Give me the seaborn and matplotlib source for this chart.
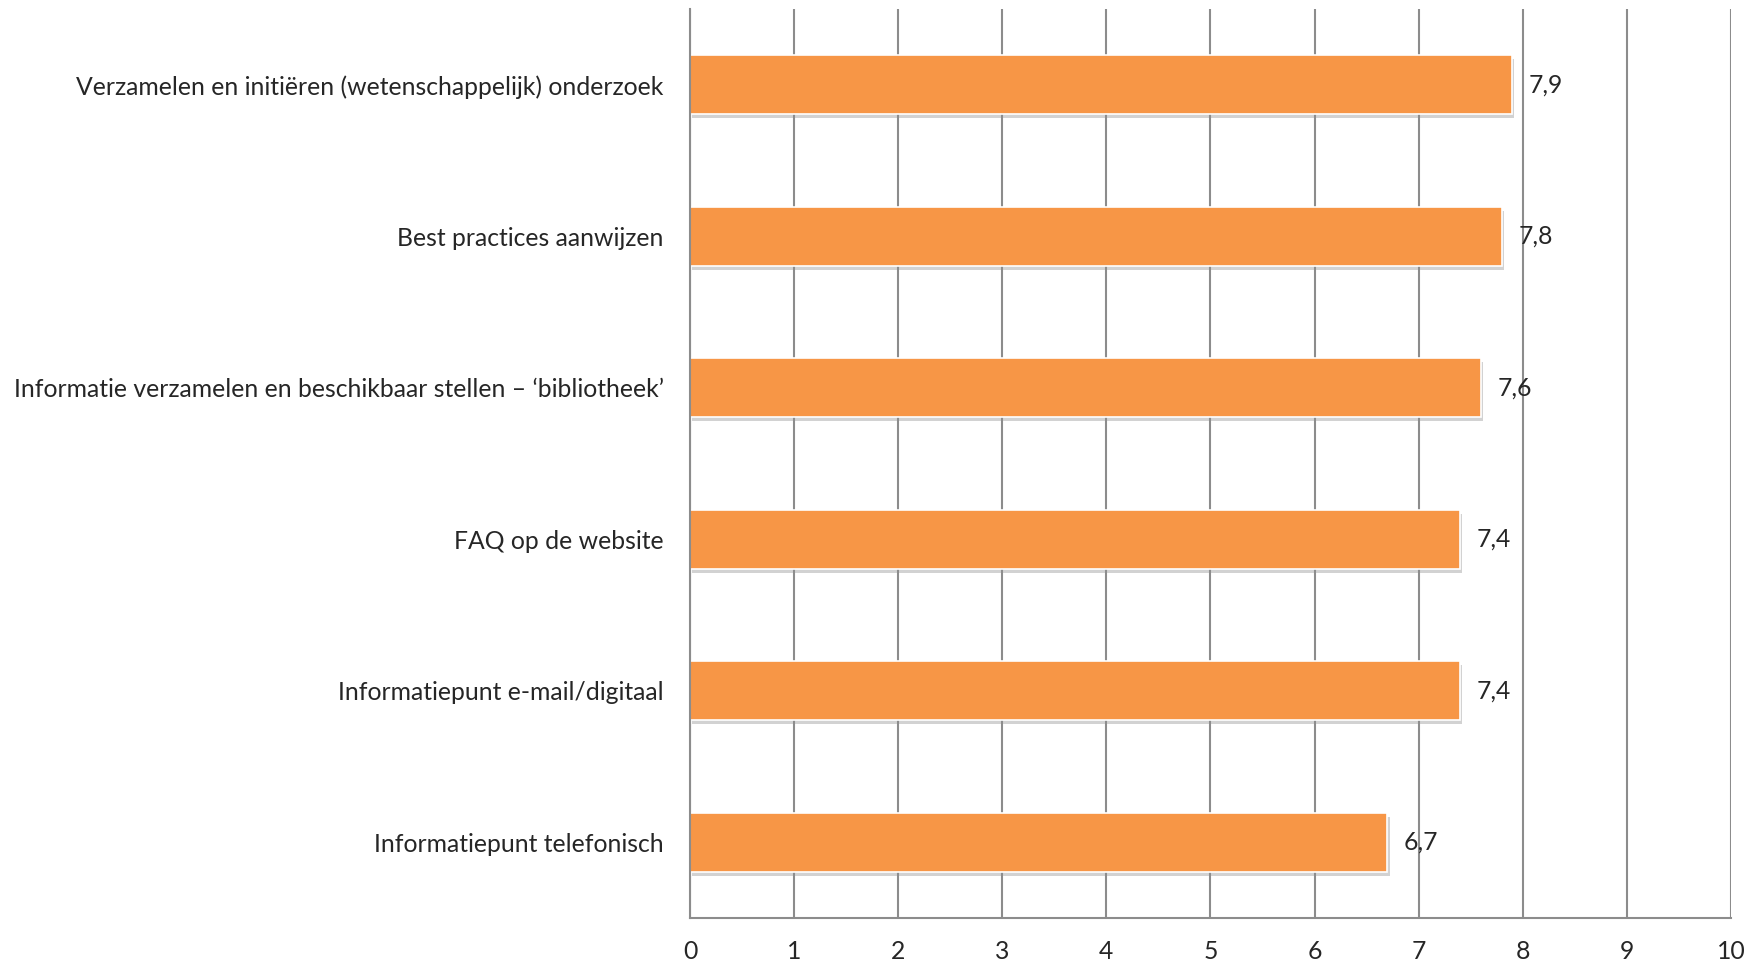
import matplotlib
matplotlib.use('Agg')
import matplotlib.pyplot as plt
import matplotlib.patheffects as pe
import seaborn as sns
import pandas as pd
import numpy as np

sns.set_style('white')
plt.rcParams['font.family'] = ['Lato', 'DejaVu Sans']

# data
categories = [
    'Verzamelen en initiëren (wetenschappelijk) onderzoek',
    'Best practices aanwijzen',
    'Informatie verzamelen en beschikbaar stellen – ‘bibliotheek’',
    'FAQ op de website',
    'Informatiepunt e-mail/digitaal',
    'Informatiepunt telefonisch',
]
scores = [7.9, 7.8, 7.6, 7.4, 7.4, 6.7]
x_ticks = [0, 1, 2, 3, 4, 5, 6, 7, 8, 9, 10]

df = pd.DataFrame({'onderdeel': categories, 'score': scores})

fig = plt.figure(figsize=(17.63, 9.66), dpi=100)
ax = fig.add_axes([0.3914, 0.0497, 0.5904, 0.941])

grid_c = '#8c8c8c'
fs = 17.8
sns.barplot(data=df, y='onderdeel', x='score', orient='h', color='#F79646',
            saturation=1, width=0.39, ax=ax, edgecolor='white', linewidth=1.2)
for p in ax.patches:
    p.set_path_effects([pe.SimplePatchShadow(offset=(1.5, -3), shadow_rgbFace='#8f8f8f', alpha=0.4),
                        pe.Normal()])

ax.set_xlim(0, 10)
ax.set_ylim(len(categories) - 0.5, -0.5)
ax.set_xticks(x_ticks)
ax.set_xticklabels([str(t) for t in x_ticks], fontsize=fs)
ax.xaxis.grid(True, color=grid_c, linewidth=1.5)
ax.set_axisbelow(True)

# value labels with decimal comma
for i, v in enumerate(scores):
    ax.annotate(f'{v:.1f}'.replace('.', ','), xy=(v, i), xytext=(12, 0),
                textcoords='offset points', va='center', ha='left', fontsize=fs)

ax.set_xlabel('')
ax.set_ylabel('')
ax.tick_params(axis='y', which='major', length=0, pad=19, labelsize=fs)
ax.set_yticks(np.arange(-0.5, len(categories), 1.0), minor=True)
ax.tick_params(axis='y', which='minor', length=6, width=1.5, color=grid_c, direction='out')
ax.tick_params(axis='x', which='major', length=6, width=1.5, color=grid_c, direction='out', pad=10)

for s in ['top', 'right']:
    ax.spines[s].set_visible(False)
for s in ['left', 'bottom']:
    ax.spines[s].set_color(grid_c)
    ax.spines[s].set_linewidth(1.5)

fig.savefig('out.png', dpi=100)
